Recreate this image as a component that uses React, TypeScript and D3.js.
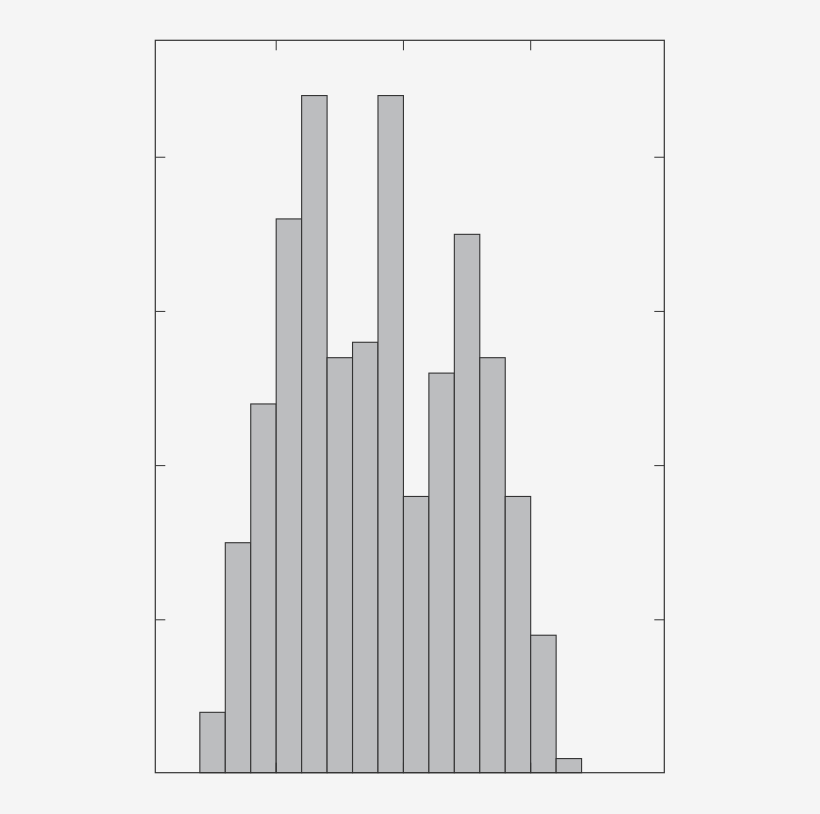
import React from 'react';
import * as d3 from 'd3';

// histogram counts per bin (bin width 0.2)
const binStarts = [-1.6, -1.4, -1.2, -1.0, -0.8, -0.6, -0.4, -0.2, 0.0, 0.2, 0.4, 0.6, 0.8, 1.0, 1.2];
const counts = [4, 15, 24, 36, 44, 27, 28, 44, 18, 26, 35, 27, 18, 9, 1];
const binWidth = 0.2;
const xTicks = [-1, 0, 1];
const yTicks = [10, 20, 30, 40];
const xDomain: [number, number] = [-1.95, 2.05];
const yDomain: [number, number] = [0, 47.5];

const W = 820;
const H = 814;
const margin = { top: 40.3, right: 155.7, bottom: 41.3, left: 155.3 };

const App = () => {
  const iw = W - margin.left - margin.right;
  const ih = H - margin.top - margin.bottom;

  const x = d3.scaleLinear().domain(xDomain).range([0, iw]);
  // zero sits a hair below the frame, as in the original export
  const y = d3.scaleLinear().domain(yDomain).range([ih + 1.3, 1.3]);

  const tickLen = 10;
  const stroke = '#333';

  return (
    <svg
      width={W}
      height={H}
      style={{ position: 'absolute', left: 0, top: 0, display: 'block' }}
    >
      <rect width={W} height={H} fill="#f5f5f5" />
      <g transform={`translate(${margin.left}, ${margin.top})`}>
        {counts.map((c, i) => (
          <rect
            key={i}
            x={x(binStarts[i])}
            y={y(c)}
            width={x(binStarts[i] + binWidth) - x(binStarts[i])}
            height={ih - y(c)}
            fill="#bcbdbf"
            stroke={stroke}
            strokeWidth={1.1}
          />
        ))}
        {xTicks.map((t) => (
          <g key={`x${t}`}>
            <line x1={x(t)} x2={x(t)} y1={ih} y2={ih - tickLen} stroke={stroke} />
            <line x1={x(t)} x2={x(t)} y1={0} y2={tickLen} stroke={stroke} />
          </g>
        ))}
        {yTicks.map((t) => (
          <g key={`y${t}`}>
            <line x1={0} x2={tickLen} y1={y(t)} y2={y(t)} stroke={stroke} />
            <line x1={iw} x2={iw - tickLen} y1={y(t)} y2={y(t)} stroke={stroke} />
          </g>
        ))}
        <rect x={0} y={0} width={iw} height={ih} fill="none" stroke={stroke} strokeWidth={1.2} />
      </g>
    </svg>
  );
};

export default App;
